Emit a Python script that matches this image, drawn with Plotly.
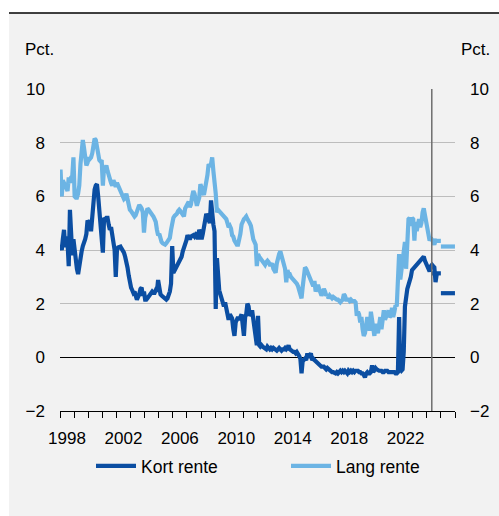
import pandas as pd
import plotly.graph_objects as go

# ---------------- data (monthly, Jan 1998 - Sep 2024) ----------------
start_month = "1998-01-01"

kort_rente = [
    # 1998
    4.2, 4.0, 4.4, 4.75, 4.1, 4.5, 4.3, 3.4, 5.5, 4.4, 3.8, 4.4,
    # 1999
    3.9, 3.6, 3.3, 3.1, 3.5, 3.7, 3.95, 4.15, 4.25, 4.4, 4.6, 5.1,
    # 2000
    5.0, 5.1, 4.7, 5.3, 5.7, 6.25, 6.4, 6.45, 6.0, 5.45, 5.25, 4.75,
    # 2001
    3.9, 5.2, 5.15, 5.2, 5.2, 4.95, 4.75, 4.85, 4.45, 4.2, 4.0, 3.0,
    # 2002
    4.0, 4.1, 4.13, 4.13, 4.05, 4.0, 3.9, 3.75, 3.6, 3.35, 3.05, 2.75,
    # 2003
    2.6, 2.5, 2.4, 2.45, 2.35, 2.15, 2.25, 2.35, 2.55, 2.6, 2.3, 2.45,
    # 2004
    2.15, 2.15, 2.2, 2.25, 2.35, 2.4, 2.45, 2.4, 2.4, 2.5, 2.45, 2.88,
    # 2005
    2.55, 2.35, 2.3, 2.25, 2.2, 2.15, 2.15, 2.2, 2.3, 2.45, 2.75, 4.15,
    # 2006
    3.15, 3.25, 3.35, 3.45, 3.5, 3.6, 3.65, 3.75, 3.95, 4.05, 4.2, 4.35,
    # 2007
    4.55, 4.45, 4.4, 4.5, 4.55, 4.55, 4.5, 4.6, 4.65, 4.4, 4.75, 4.65,
    # 2008
    4.4, 4.6, 4.8, 5.1, 5.35, 5.25, 5.1, 5.0, 5.85, 5.25, 4.95, 4.7,
    # 2009
    1.8, 3.7, 3.05, 2.5, 2.35, 2.2, 2.0, 1.9, 2.05, 1.85, 1.5, 1.4,
    # 2010
    1.6, 1.5, 1.45, 1.05, 0.8, 1.3, 1.4, 1.5, 1.4, 1.5, 1.6, 1.2,
    # 2011
    0.8, 1.5, 1.6, 2.0, 1.9, 1.55, 1.6, 1.75, 1.4, 1.15, 0.9, 0.45,
    # 2012
    1.55, 0.45, 0.4, 0.45, 0.4, 0.35, 0.35, 0.3, 0.4, 0.35, 0.3, 0.35,
    # 2013
    0.3, 0.35, 0.3, 0.3, 0.25, 0.3, 0.35, 0.3, 0.25, 0.3, 0.3, 0.35,
    # 2014
    0.3, 0.35, 0.45, 0.3, 0.25, 0.2, 0.2, 0.2, 0.15, 0.2, 0.15, 0.05,
    # 2015
    -0.05, -0.6, -0.15, -0.1, -0.05, -0.1, 0.15, 0.0, 0.1, 0.15, -0.1, -0.05,
    # 2016
    -0.1, -0.15, -0.2, -0.2, -0.25, -0.3, -0.35, -0.35, -0.35, -0.4, -0.45, -0.4,
    # 2017
    -0.45, -0.5, -0.5, -0.55, -0.55, -0.6, -0.6, -0.55, -0.6, -0.55, -0.5, -0.55,
    # 2018
    -0.5, -0.55, -0.5, -0.55, -0.6, -0.5, -0.55, -0.5, -0.55, -0.5, -0.55, -0.5,
    # 2019
    -0.5, -0.5, -0.55, -0.55, -0.6, -0.6, -0.65, -0.75, -0.6, -0.55, -0.6, -0.6,
    # 2020
    -0.55, -0.3, -0.55, -0.45, -0.4, -0.45, -0.5, -0.5, -0.5, -0.5, -0.55, -0.55,
    # 2021
    -0.5, -0.5, -0.5, -0.55, -0.55, -0.55, -0.55, -0.55, -0.55, -0.6, -0.6, -0.55,
    # 2022
    1.5, -0.45, -0.5, -0.45, 0.2, 1.9, 2.3, 2.55, 2.7, 2.8, 3.0, 3.25,
    # 2023
    3.3, 3.4, 3.45, 3.5, 3.55, 3.6, 3.65, 3.7, 3.7, 3.75, 3.6, 3.5,
    # 2024
    3.45, 3.3, 3.2, 3.4, 3.45, 3.4, 3.35, 2.8, 3.1,
]

lang_rente = [
    # 1998
    7.0, 6.0, 6.6, 6.5, 6.4, 6.3, 6.2, 6.7, 6.5, 6.7, 6.75, 7.45,
    # 1999
    6.0, 5.95, 5.95, 6.1, 6.4, 7.2, 7.95, 8.1, 7.8, 7.5, 7.15, 7.25,
    # 2000
    7.45, 7.4, 7.45, 7.6, 7.95, 8.15, 8.1, 7.8, 7.5, 7.35, 7.3, 7.35,
    # 2001
    6.4, 7.1, 7.0, 7.15, 6.95, 6.75, 6.65, 6.5, 6.4, 6.6, 6.5, 6.35,
    # 2002
    6.5, 6.4, 6.3, 6.2, 6.1, 6.0, 5.9, 5.95, 6.1, 5.9, 5.65, 5.5,
    # 2003
    5.45, 5.35, 5.3, 5.25, 5.3, 5.45, 5.6, 5.68, 5.62, 5.55, 5.4, 4.65,
    # 2004
    5.2, 5.35, 5.55, 5.5, 5.45, 5.35, 5.3, 5.25, 5.15, 5.05, 4.75, 4.55,
    # 2005
    4.6, 4.4, 4.3, 4.25, 4.2, 4.2, 4.25, 4.3, 4.35, 4.45, 4.75, 5.05,
    # 2006
    5.2, 5.27, 5.3, 5.35, 5.45, 5.5, 5.45, 5.4, 5.35, 5.25, 5.55, 5.65,
    # 2007
    5.68, 5.8, 5.6, 5.7, 6.0, 6.2, 6.1, 5.9, 5.65, 5.8, 5.95, 6.45,
    # 2008
    6.3, 6.15, 6.05, 6.3, 6.5, 6.8, 7.2, 7.15, 7.2, 7.45, 6.95, 6.6,
    # 2009
    6.1, 5.4, 5.5, 5.45, 5.4, 5.3, 5.3, 5.2, 5.2, 5.15, 5.0, 4.85,
    # 2010
    4.9, 4.8, 4.55, 4.5, 4.35, 4.25, 4.2, 4.2, 4.35, 4.6, 4.95, 5.1,
    # 2011
    5.15, 5.2, 5.25, 5.15, 5.1, 5.0, 4.9, 4.6, 4.4, 4.3, 4.2, 3.4,
    # 2012
    3.85, 3.75, 3.7, 3.65, 3.55, 3.5, 3.45, 3.55, 3.6, 3.55, 3.45, 3.45,
    # 2013
    3.5, 3.3, 3.2, 3.15, 3.5, 3.75, 3.85, 3.95, 3.8, 3.6, 3.45, 3.3,
    # 2014
    2.8, 3.25, 3.1, 3.1, 3.0, 2.95, 2.9, 2.85, 2.85, 2.75, 2.65, 2.5,
    # 2015
    2.3, 2.2, 2.6, 3.0, 3.35, 3.3, 3.2, 3.15, 3.05, 2.95, 2.75, 2.65,
    # 2016
    2.85, 2.45, 2.6, 2.7, 2.55, 2.4, 2.3, 2.4, 2.55, 2.45, 2.3, 2.35,
    # 2017
    2.2, 2.3, 2.25, 2.2, 2.25, 2.2, 2.2, 2.15, 2.15, 2.1, 2.05, 2.1,
    # 2018
    2.15, 2.35, 2.3, 2.15, 2.15, 2.15, 2.1, 2.15, 2.1, 2.1, 2.1, 2.05,
    # 2019
    1.55, 1.7, 1.6, 1.3, 1.5, 1.05, 0.8, 0.9, 1.15, 1.5, 1.2, 1.0,
    # 2020
    1.7, 1.3, 1.2, 0.8, 1.25, 1.1, 0.9, 1.2, 1.5, 1.05, 1.3, 1.75,
    # 2021
    1.4, 1.55, 1.7, 1.75, 1.5, 1.55, 1.85, 1.5, 1.7, 1.95, 1.9, 2.7,
    # 2022
    3.85, 2.9, 3.25, 3.55, 4.05, 4.3, 3.3, 4.6, 5.15, 5.2, 4.9, 5.2,
    # 2023
    5.15, 4.35, 5.05, 4.7, 4.9, 5.15, 4.85, 5.0, 5.4, 5.55, 5.3, 5.0,
    # 2024
    4.7, 4.4, 4.35, 4.45, 4.4, 4.3, 4.2, 4.35, 4.35,
]

# Forecast (period averages) drawn as flat segments
marker_date = "2024-05-10"
forecast_starts = [marker_date, "2025-01-01"]
forecast_ends = ["2024-12-31", "2025-12-31"]
kort_forecast = [3.13, 2.39]
lang_forecast = [4.34, 4.13]

tick_years = [1998, 2002, 2006, 2010, 2014, 2018, 2022]
year_ticks = list(range(1998, 2027))

# ---------------- figure ----------------
DARK = "#0B4EA2"
LIGHT = "#6CB4E4"
FONT = "Liberation Sans, Arial, sans-serif"
LW = 4.2
FS = 17

months = pd.date_range(start_month, periods=len(kort_rente), freq="MS") + pd.Timedelta(days=14)


def segments(starts, ends, vals):
    xs, ys = [], []
    for s, e, v in zip(starts, ends, vals):
        xs += [s, e, None]
        ys += [v, v, None]
    return xs, ys


fig = go.Figure()

fig.add_trace(go.Scatter(x=months, y=lang_rente, mode="lines", name="Lang rente",
                         line=dict(color=LIGHT, width=LW), legend="legend2"))
fx, fy = segments(forecast_starts, forecast_ends, lang_forecast)
fig.add_trace(go.Scatter(x=fx, y=fy, mode="lines", showlegend=False,
                         line=dict(color=LIGHT, width=LW), connectgaps=False))

fig.add_trace(go.Scatter(x=months, y=kort_rente, mode="lines", name="Kort rente",
                         line=dict(color=DARK, width=LW), legend="legend"))
fx, fy = segments(forecast_starts, forecast_ends, kort_forecast)
fig.add_trace(go.Scatter(x=fx, y=fy, mode="lines", showlegend=False,
                         line=dict(color=DARK, width=LW), connectgaps=False))

# empty trace to carry the right-hand axis
fig.add_trace(go.Scatter(x=[], y=[], yaxis="y2", showlegend=False, hoverinfo="skip"))

W, H = 499, 516
L, R, T, B = 60, 44, 89, 105
pw, ph = W - L - R, H - T - B


def px_x(p):
    return (p - L) / pw


def px_y(p):
    return (H - B - p) / ph


legend_style = dict(orientation="h", xanchor="left", yanchor="middle", y=px_y(466),
                    itemwidth=40, bgcolor="rgba(0,0,0,0)", borderwidth=0,
                    font=dict(family=FONT, size=17.5, color="#000000"))

fig.update_layout(
    width=W, height=H,
    margin=dict(l=L, r=R, t=T, b=B, autoexpand=False),
    paper_bgcolor="#F2F2F2", plot_bgcolor="#F2F2F2",
    font=dict(family=FONT, size=FS, color="#000000"),
    showlegend=True,
    legend=dict(x=px_x(91), **legend_style),
    legend2=dict(x=px_x(286), **legend_style),
    xaxis=dict(
        type="date", range=["1998-01-01", "2026-01-01"],
        tickmode="array", tickvals=[f"{y}-07-02" for y in tick_years],
        ticktext=[str(y) for y in tick_years], ticks="",
        ticklabelstandoff=11,
        minor=dict(tickmode="array", tickvals=[f"{y}-01-01" for y in year_ticks],
                   ticks="outside", ticklen=6, tickwidth=1.3, tickcolor="#000000",
                   showgrid=False),
        showgrid=False, zeroline=False,
        showline=True, linecolor="#000000", linewidth=1.3,
        tickfont=dict(size=FS),
    ),
    yaxis=dict(
        range=[-2, 10], tickmode="linear", tick0=-2, dtick=2,
        showgrid=True, gridcolor="#BDBDBD", gridwidth=1,
        zeroline=True, zerolinecolor="#000000", zerolinewidth=1.3,
        ticks="", ticklabelstandoff=14, showline=False,
        tickfont=dict(size=FS),
    ),
    yaxis2=dict(
        range=[-2, 10], tickmode="linear", tick0=-2, dtick=2,
        overlaying="y", side="right", showgrid=False, zeroline=False,
        ticks="", ticklabelstandoff=14, showline=False,
        tickfont=dict(size=FS),
    ),
    shapes=[
        # vertical marker line
        dict(type="line", xref="x", yref="y", x0=marker_date, x1=marker_date, y0=-2, y1=10,
             line=dict(color="#6E6E6E", width=1.5), layer="above"),
        # white frame outside panel
        dict(type="rect", xref="paper", yref="paper", x0=px_x(-5), x1=px_x(9),
             y0=px_y(H + 5), y1=px_y(-5), fillcolor="#FFFFFF", line=dict(width=0)),
        dict(type="rect", xref="paper", yref="paper", x0=px_x(-5), x1=px_x(W + 5),
             y0=px_y(13), y1=px_y(-5), fillcolor="#FFFFFF", line=dict(width=0)),
        dict(type="line", xref="paper", yref="paper", x0=px_x(9), x1=px_x(W + 5),
             y0=px_y(13), y1=px_y(13), line=dict(color="#000000", width=1.5)),
    ],
    annotations=[
        dict(text="Pct.", xref="paper", yref="paper", x=px_x(23), y=px_y(50),
             xanchor="left", yanchor="middle", showarrow=False, font=dict(size=FS)),
        dict(text="Pct.", xref="paper", yref="paper", x=px_x(492), y=px_y(50),
             xanchor="right", yanchor="middle", showarrow=False, font=dict(size=FS)),
    ],
)

fig.write_html("out.html", config={"displayModeBar": False},
               post_script="document.body.style.margin='0px';")
